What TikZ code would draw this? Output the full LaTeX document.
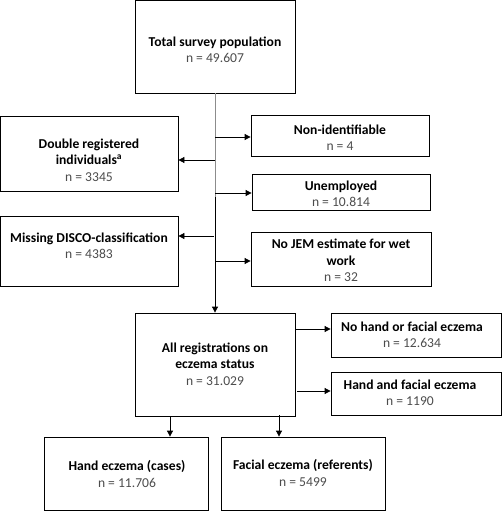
\documentclass[tikz,border=0pt]{standalone}
\usepackage{fontspec}
\setmainfont{Carlito}
\usetikzlibrary{arrows.meta,calc}
\definecolor{ntext}{gray}{0.3}
\tikzset{
  box/.style={draw=black, line width=0.8pt, inner sep=0pt},
  txt/.style={align=center, inner sep=0pt, font=\fontsize{13.6}{16.3}\selectfont},
  arr/.style={line width=0.8pt, -{Triangle[length=6pt,width=6pt]}},
  ln/.style={line width=0.8pt}
}
\newcommand{\nn}[1]{\textcolor{ntext}{\normalfont #1}}
\begin{document}
\begin{tikzpicture}[x=1pt,y=-1pt]
\useasboundingbox (0,0) rectangle (501,511);
\node[box, minimum width=160, minimum height=93] (top) at (215,46.5) {};
\node[txt] (topT) at (215,50) {\textbf{Total survey population}\\\nn{n = 49.607}};
\node[box, minimum width=178, minimum height=75] (dbl) at (89,153.5) {};
\node[txt] (dblT) at (89,160) {\textbf{Double registered}\\\textbf{individuals\textsuperscript{a}}\\\nn{n = 3345}};
\node[box, minimum width=178, minimum height=41] (nonid) at (340,135.5) {};
\node[txt] (nonidT) at (340,138) {\textbf{Non-identifiable}\\\nn{n = 4}};
\node[box, minimum width=178, minimum height=36] (unemp) at (341,192) {};
\node[txt] (unempT) at (341,194) {\textbf{Unemployed}\\\nn{n = 10.814}};
\node[box, minimum width=178, minimum height=70] (miss) at (89,251) {};
\node[txt] (missT) at (89,246) {\textbf{Missing DISCO-classification}\\\nn{n = 4383}};
\node[box, minimum width=180, minimum height=54] (jem) at (341,259) {};
\node[txt] (jemT) at (341,260.5) {\textbf{No JEM estimate for wet}\\\textbf{work}\\\nn{n = 32}};
\node[box, minimum width=160, minimum height=103] (allreg) at (215,364.5) {};
\node[txt] (allregT) at (215,364) {\textbf{All registrations on}\\\textbf{eczema status}\\\nn{n = 31.029}};
\node[box, minimum width=170, minimum height=44] (nohand) at (416,335) {};
\node[txt] (nohandT) at (412,335) {\textbf{No hand or facial eczema}\\\nn{n = 12.634}};
\node[box, minimum width=170, minimum height=43] (handfac) at (416,393.5) {};
\node[txt] (handfacT) at (410,393) {\textbf{Hand and facial eczema}\\\nn{n = 1190}};
\node[box, minimum width=164, minimum height=73] (hand) at (126,473.5) {};
\node[txt] (handT) at (127,474) {\textbf{Hand eczema (cases)}\\\nn{n = 11.706}};
\node[box, minimum width=164, minimum height=73] (facial) at (303,473.5) {};
\node[txt] (facialT) at (303,473) {\textbf{Facial eczema (referents)}\\\nn{n = 5499}};
% trunk
\coordinate (mid) at (215,197);
\draw[ln, draw=black!45] (top.south) -- (mid);
\draw[arr] (mid) -- (allreg.north);
\coordinate (t1) at (215,137);
\coordinate (t2) at (215,160);
\coordinate (t3) at (215,193);
\coordinate (t4) at (214,236);
\coordinate (t5) at (215,261);
\draw[arr] (t1) -- (t1 -| nonid.west);
\draw[arr] (t2) -- (t2 -| dbl.east);
\draw[arr] (t3) -- (t3 -| unemp.west);
\draw[arr] (t4) -- (t4 -| miss.east);
\draw[arr] (t5) -- (t5 -| jem.west);
\coordinate (a1) at (295,329);
\coordinate (a2) at (297,391);
\draw[arr] (a1) -- (a1 -| nohand.west);
\draw[arr] (a2) -- (a2 -| handfac.west);
\coordinate (b1) at (170,416);
\coordinate (b2) at (279,415);
\draw[arr] (b1) -- (b1 |- hand.north);
\draw[arr] (b2) -- (b2 |- facial.north);
\end{tikzpicture}
\end{document}
